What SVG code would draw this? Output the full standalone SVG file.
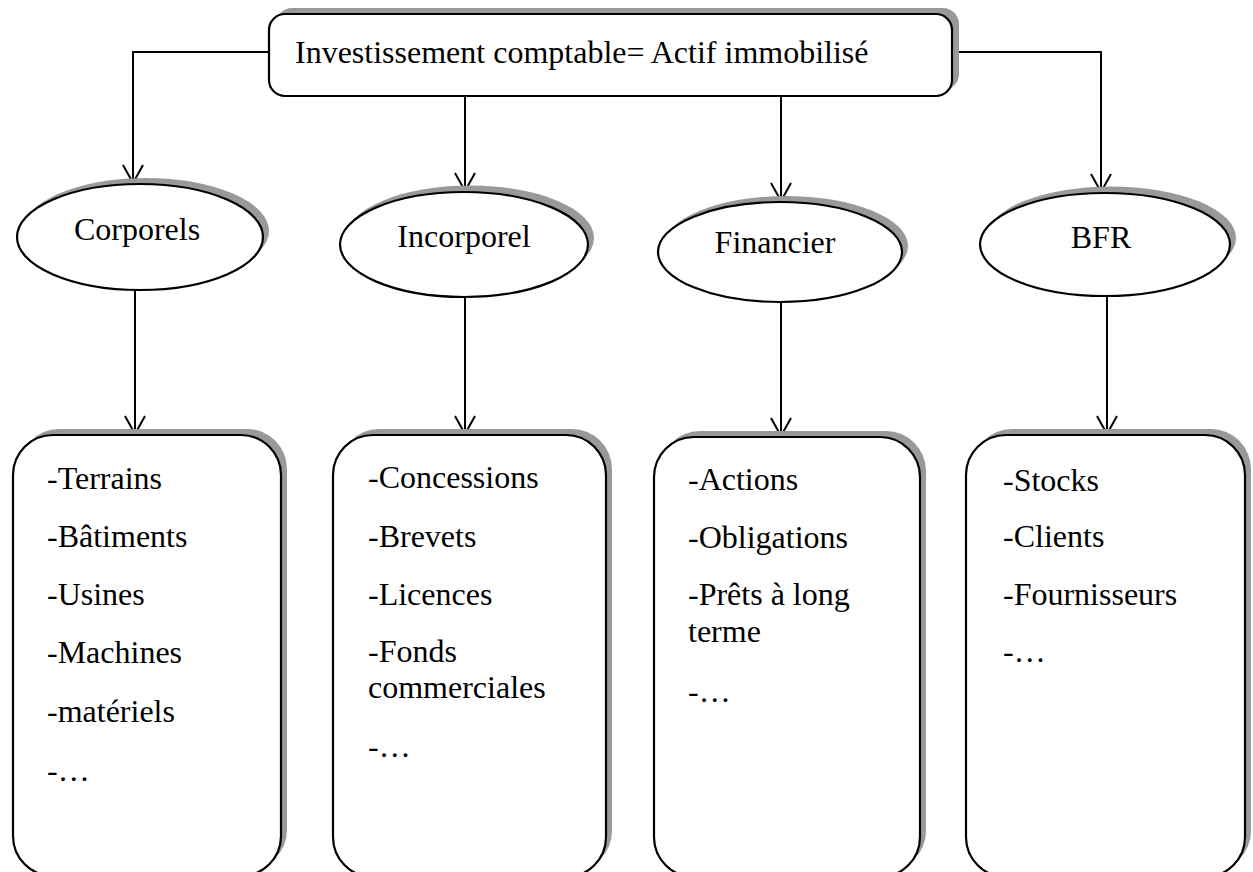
<svg xmlns="http://www.w3.org/2000/svg" width="1253" height="872" viewBox="0 0 1253 872">
<style>
.shape{fill:#fff;stroke:#000;stroke-width:2.2}
.shadow{fill:#999;stroke:none}
.conn{fill:none;stroke:#000;stroke-width:2}
text{font-family:"Liberation Serif","Times New Roman",serif;font-size:32px;fill:#000}
.c{text-anchor:middle}
</style>
<defs>
<marker id="arr" markerUnits="userSpaceOnUse" markerWidth="26" markerHeight="26" viewBox="-22 -13 26 26" refX="0" refY="0" orient="auto">
<path d="M -18 -10 L 0 0 L -18 10" fill="none" stroke="#000" stroke-width="2"/>
</marker>
</defs>
<rect width="1253" height="872" fill="#fff"/>
<g id="connectors">
<polyline class="conn" points="269,52 133,52 133,183" marker-end="url(#arr)"/>
<line class="conn" x1="465" y1="96" x2="465" y2="191" marker-end="url(#arr)"/>
<line class="conn" x1="781" y1="96" x2="781" y2="201" marker-end="url(#arr)"/>
<polyline class="conn" points="952,52 1101,52 1101,192" marker-end="url(#arr)"/>
<line class="conn" x1="135" y1="290" x2="135" y2="434" marker-end="url(#arr)"/>
<line class="conn" x1="465" y1="297" x2="465" y2="434" marker-end="url(#arr)"/>
<line class="conn" x1="781" y1="302" x2="781" y2="436" marker-end="url(#arr)"/>
<line class="conn" x1="1107" y1="296" x2="1107" y2="434" marker-end="url(#arr)"/>
</g>
<g id="root">
<rect class="shadow" x="276" y="8" width="683" height="82" rx="16"/>
<rect class="shape" x="269" y="14" width="683" height="82" rx="16"/>
<text x="295" y="63">Investissement comptable= Actif immobilisé</text>
</g>
<g id="corporels">
<ellipse class="shadow" cx="146" cy="231" rx="123" ry="53"/>
<ellipse class="shape" cx="140" cy="237" rx="123" ry="53"/>
<text class="c" x="137" y="240">Corporels</text>
</g>
<g id="incorporel">
<ellipse class="shadow" cx="470" cy="238" rx="124" ry="52.5"/>
<ellipse class="shape" cx="464" cy="244.5" rx="124" ry="52.5"/>
<text class="c" x="464" y="247">Incorporel</text>
</g>
<g id="financier">
<ellipse class="shadow" cx="786" cy="246" rx="122" ry="50"/>
<ellipse class="shape" cx="780" cy="252" rx="122" ry="50"/>
<text class="c" x="775" y="253">Financier</text>
</g>
<g id="bfr">
<ellipse class="shadow" cx="1111" cy="238" rx="125" ry="51.5"/>
<ellipse class="shape" cx="1105" cy="244.5" rx="125" ry="51.5"/>
<text class="c" x="1101" y="248">BFR</text>
</g>
<g id="list-corporels">
<rect class="shadow" x="19" y="429" width="268" height="441" rx="40"/>
<rect class="shape" x="13" y="435" width="268" height="441" rx="40"/>
<text x="47" y="489">-Terrains</text>
<text x="47" y="547">-Bâtiments</text>
<text x="47" y="605">-Usines</text>
<text x="47" y="663">-Machines</text>
<text x="47" y="722">-matériels</text>
<text x="47" y="781">-…</text>
</g>
<g id="list-incorporel">
<rect class="shadow" x="339" y="429" width="273" height="442" rx="40"/>
<rect class="shape" x="333" y="435" width="273" height="442" rx="40"/>
<text x="368" y="488">-Concessions</text>
<text x="368" y="547">-Brevets</text>
<text x="368" y="605">-Licences</text>
<text x="368" y="662">-Fonds</text>
<text x="368" y="698">commerciales</text>
<text x="368" y="757">-…</text>
</g>
<g id="list-financier">
<rect class="shadow" x="660" y="431" width="266" height="440" rx="40"/>
<rect class="shape" x="654" y="437" width="266" height="440" rx="40"/>
<text x="688" y="490">-Actions</text>
<text x="688" y="548">-Obligations</text>
<text x="688" y="605">-Prêts à long</text>
<text x="688" y="642">terme</text>
<text x="688" y="702">-…</text>
</g>
<g id="list-bfr">
<rect class="shadow" x="972" y="429" width="279" height="442" rx="40"/>
<rect class="shape" x="966" y="435" width="279" height="442" rx="40"/>
<text x="1003" y="491">-Stocks</text>
<text x="1003" y="547">-Clients</text>
<text x="1003" y="605">-Fournisseurs</text>
<text x="1003" y="662">-…</text>
</g>
</svg>
